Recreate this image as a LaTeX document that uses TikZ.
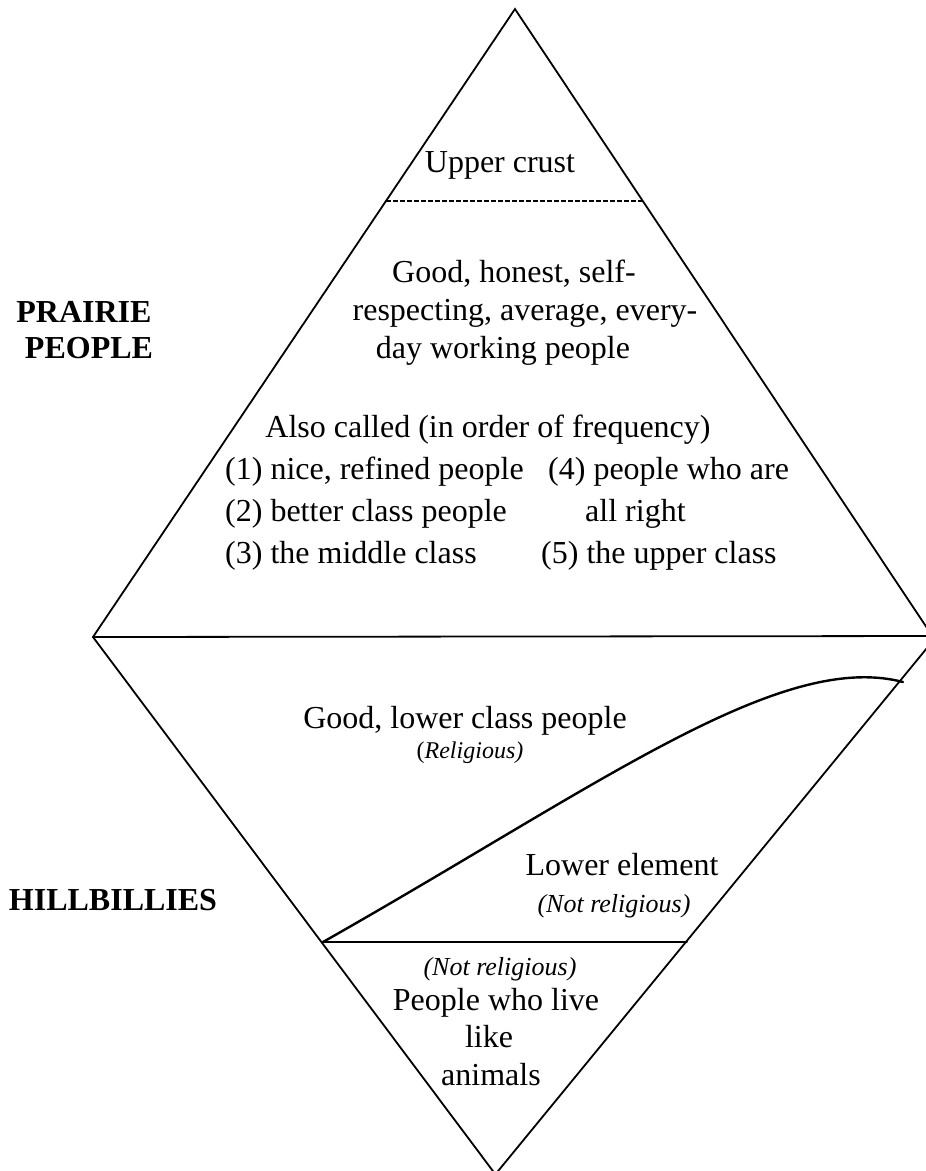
\documentclass[tikz,border=0pt]{standalone}
\usepackage{fontspec}
\setmainfont{Liberation Serif}
\begin{document}
\begin{tikzpicture}[x=1pt,y=-1pt,
  edge/.style={line width=1.8pt,line cap=round,line join=miter},
  divider/.style={line width=1.6pt,dashed,dash pattern=on 4.5pt off 2.5pt},
  boundary/.style={line width=2.4pt,line cap=round},
  txt/.style={inner sep=0pt,anchor=base,font=\fontsize{32}{38}\selectfont},
  txtl/.style={txt,anchor=base west},
  side/.style={txt,font=\fontsize{32}{38}\selectfont\bfseries},
  note/.style={inner sep=0pt,anchor=base,font=\fontsize{26}{30}\selectfont\itshape},
  notesm/.style={inner sep=0pt,anchor=base,font=\fontsize{24}{28}\selectfont}]
\useasboundingbox (0,0) rectangle (926,1171);
\clip (0,0) rectangle (926,1171);

% corner points of the two triangles
\coordinate (apex)   at (515,9);
\coordinate (west)   at (93,637);
\coordinate (eastup) at (933,637);
\coordinate (eastlo) at (936,637);
\coordinate (bottom) at (495.4,1174.3);
\coordinate (midE)   at (940,636);

% upper triangle and lower triangle
\draw[edge] (west) -- (apex) -- (eastup);
\draw[edge] (west) -- (bottom) -- (eastlo);
\draw[edge] (west) -- (midE);

% dashed cut under the top layer
\coordinate (dashL) at (386,201);
\coordinate (dashR) at (644,201);
\draw[divider] (dashL) -- (dashR);

% horizontal cut near the bottom
\coordinate (cutL) at (323,942);
\coordinate (cutR) at (687,942);
\draw[edge] (cutL) -- (cutR);

% curved boundary between the two hillbilly groups
\coordinate (curveR) at (903,682);
\draw[boundary] (cutL) .. controls (600,785) and (780,650) .. (curveR);

% upper triangle texts
\node[txt] (crust) at (500,172) {Upper crust};
\node[txt] (good1) at (514,282) {Good, honest, self-};
\node[txt] (good2) at (525,320) {respecting, average, every-};
\node[txt] (good3) at (503,358) {day working people};
\node[txt] (also)  at (488,437) {Also called (in order of frequency)};
\node[txtl] (n1) at (225,479) {(1) nice, refined people};
\node[txtl] (n2) at (225,521) {(2) better class people};
\node[txtl] (n3) at (225,563) {(3) the middle class};
\node[txtl] (n4) at (548,479) {(4) people who are};
\node[txtl] (n4b) at (585,521) {all right};
\node[txtl] (n5) at (541,563) {(5) the upper class};

% side labels
\node[side] (prairie1) at (84,322) {PRAIRIE};
\node[side] (prairie2) at (89,358) {PEOPLE};
\node[side] (hill) at (113,910) {HILLBILLIES};

% lower diamond texts
\node[txt] (lowgood) at (465,728) {Good, lower class people};
\node[notesm] (relig) at (470,758) {(\textit{Religious)}};
\node[txt] (lowel) at (622,875) {Lower element};
\node[note] (notrel1) at (614,912) {(Not religious)};
\node[note] (notrel2) at (500,975) {(Not religious)};
\node[txt] (anim1) at (496,1010) {People who live};
\node[txt] (anim2) at (489,1047) {like};
\node[txt] (anim3) at (491,1085) {animals};
\end{tikzpicture}
\end{document}
